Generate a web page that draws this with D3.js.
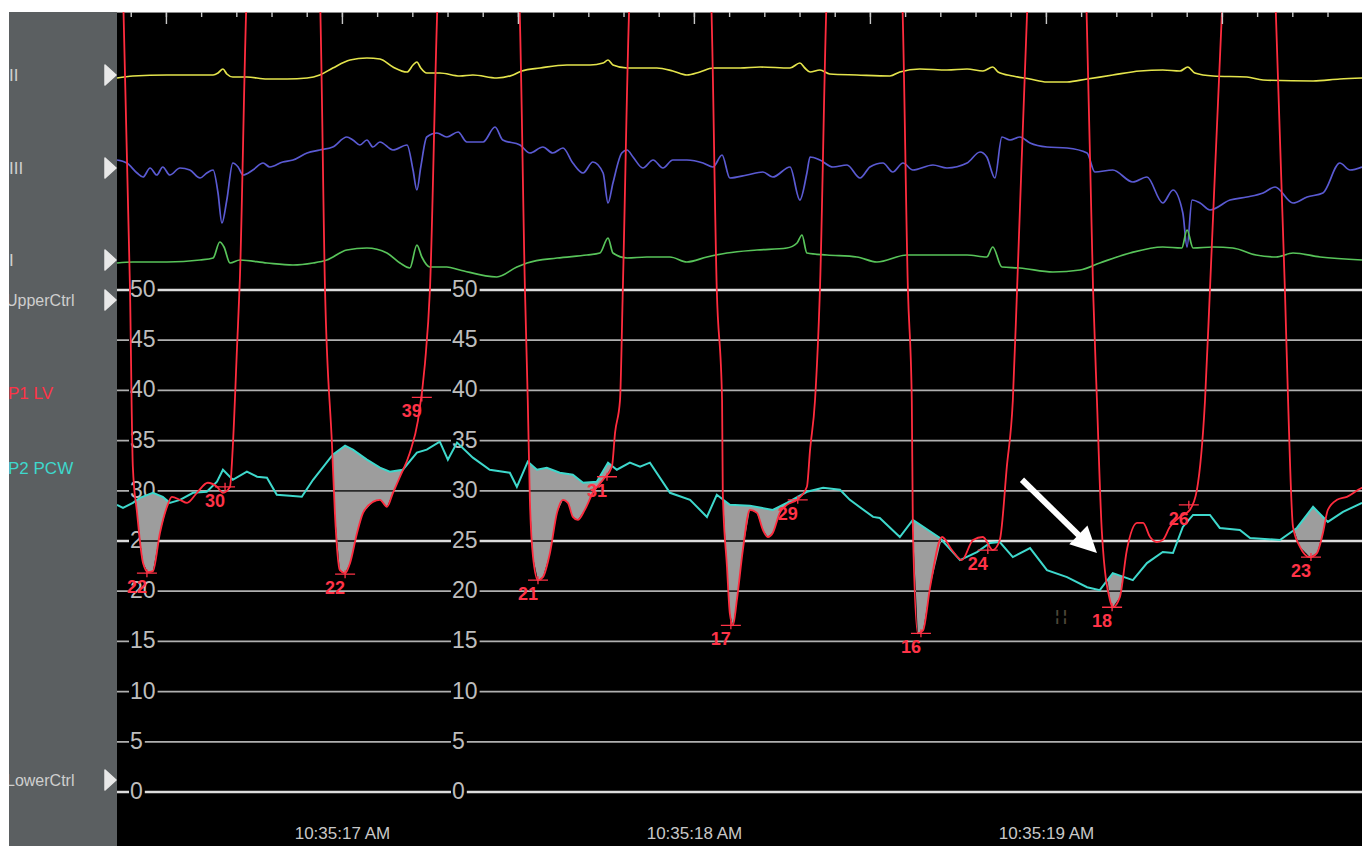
<!DOCTYPE html>
<html>
<head>
  <meta charset="utf-8">
  <style type="text/css">
  body {
    margin: 0;
    background: #fff;
  }
  svg {
    display: block;
    font-family: "Liberation Sans", Arial, sans-serif;
  }
  .grid-label {
    font-size: 23px;
    fill: #bdbdbd;
  }
  .panel-label {
    font-size: 16px;
    fill: #cfcfcf;
  }
  .time-axis text {
    font-size: 17px;
    fill: #c8c8c8;
    font-family: "Liberation Sans", Arial, sans-serif;
  }
  .time-axis path, .tick-axis path {
    display: none;
  }
  .tick-axis line {
    stroke: #c8c8c8;
    stroke-width: 1.4px;
  }
  .value-label {
    font-size: 18px;
    font-weight: bold;
    fill: #ff3347;
  }
  </style>
</head>
<body>
  <script src="https://d3js.org/d3.v7.min.js"></script>
  <script>
    // time is ms relative to 10:35:17.000 AM, pressure in mmHg, ECG in mV
    var lvData = [
      [-700,125],[-622,80],[-602,50],[-594,32.4],[-582,27.8],[-565,22.8],[-551,21.9],[-537,22],[-517,25.8],[-497,28.4],
      [-483,29.4],[-460,29.1],[-440,28.8],[-412,29.8],[-381,30.8],[-355,30.4],[-338,29.8],[-318,30.4],[-310,34.4],[-298,44.3],
      [-290,51],[-270,80],[-162,125],
      [-63,80],[-48,50],[-28,34.4],[-20,27.8],[-6,22.1],[9,21.8],[23,22.8],[43,25.8],[60,27.8],[88,28.9],[108,29.1],
      [128,28.4],[145,29.8],[165,31.4],[193,33.8],[216,37],[236,42.7],[250,50],[273,80],[386,125],
      [503,80],[520,50],[528,39],[534,29.1],[543,23.4],[557,21.1],[571,21.4],[591,23.8],[611,27.8],[628,29.1],
      [642,28.8],[656,27.4],[670,27.1],[690,28.1],[713,29.8],[742,31.1],[767,32.4],[776,35.8],[790,39],[798,50],
      [818,80],[932,125],
      [1048,80],[1065,50],[1080,39],[1082,29.8],[1094,22.4],[1102,17.8],[1111,16.6],[1122,19.1],[1139,24.1],[1159,28.1],
      [1179,27.8],[1196,26.1],[1210,25.4],[1224,25.8],[1244,27.8],[1264,28.6],[1293,29.1],[1321,30.4],[1330,34.1],[1344,39],
      [1358,50],[1378,80],[1486,125],
      [1591,80],[1608,50],[1619,39],[1622,26.4],[1636,15.8],[1651,16.1],[1671,20.4],[1705,25.4],[1733,24.1],[1761,23.1],
      [1793,25.1],[1821,25.4],[1849,24.1],[1869,25.1],[1889,32.4],[1906,39],[1918,50],[1949,80],[2031,125],
      [2114,80],[2134,50],[2145,39],[2159,25.9],[2182,19.1],[2190,18.4],[2210,19.4],[2230,24.1],[2259,26.8],[2276,26.8],
      [2296,25.4],[2315,24.9],[2332,25.1],[2352,26.4],[2381,27.4],[2409,28.1],[2429,30.1],[2452,39],[2466,50],[2503,80],
      [2577,125],
      [2651,80],[2679,50],[2688,39],[2702,26.4],[2722,24.4],[2750,23.4],[2770,23.8],[2787,25.8],[2801,28.1],[2827,29.1],
      [2855,29.4],[2898,30.3],[2921,30.5]
    ];

    var pcwData = [
      [-639,28.6],[-622,28.3],[-594,28.8],[-574,29.3],[-537,29.8],[-509,29.4],[-489,28.8],[-460,29.1],[-423,29.8],[-384,29.9],
      [-355,30.9],[-338,32.1],[-310,31.1],[-270,31.9],[-241,31.4],[-213,31.3],[-185,29.6],[-148,29.5],[-114,29.4],[-82,31.1],
      [-48,32.6],[-26,33.6],[9,34.5],[31,34.1],[71,33.1],[108,32.3],[136,31.9],[173,32.1],[213,33.8],[241,34.1],
      [278,34.9],[301,33.1],[327,34.8],[372,33.3],[420,32.1],[477,31.8],[497,30.4],[528,32.9],[554,32.1],[582,32.3],
      [619,31.8],[656,31.6],[685,30.8],[724,30.9],[756,32.8],[781,32.1],[818,32.8],[847,32.4],[875,32.8],[932,29.8],
      [989,29.1],[1037,27.4],[1065,29.6],[1102,28.6],[1159,28.5],[1224,28.1],[1264,28.8],[1321,29.9],[1367,30.3],[1415,30.1],
      [1443,29.1],[1509,27.4],[1528,27.3],[1585,25.4],[1622,27.1],[1699,25.3],[1756,23.1],[1804,23.9],[1841,24.8],[1869,24.9],
      [1906,23.4],[1955,24.3],[2003,22.1],[2060,21.4],[2117,20.4],[2153,20.1],[2190,21.8],[2247,21.1],[2287,22.8],[2332,23.9],
      [2361,23.8],[2389,26.4],[2418,27.6],[2466,27.6],[2494,26.3],[2551,26.1],[2580,25.3],[2665,25.1],[2713,26.3],[2759,28.4],
      [2801,26.9],[2844,27.9],[2898,28.8]
    ];

    var ecgII = [
      [-639,-0.03],[-594,-0.01],[-497,0],[-403,0],[-366,0],[-352,0.02],[-338,0.06],[-327,0.01],[-310,-0.02],[-270,-0.02],
      [-213,-0.04],[-156,-0.04],[-99,-0.03],[-63,0],[-26,0.07],[23,0.15],[71,0.17],[108,0.16],[145,0.08],[185,0.03],
      [202,0.10],[213,0.13],[224,0.07],[241,0.02],[278,0.02],[335,-0.01],[372,0],[440,-0.03],[486,0],[511,0.04],
      [563,0.07],[639,0.10],[705,0.10],[742,0.12],[756,0.15],[770,0.10],[810,0.07],[895,0.07],[940,0.04],[980,0],
      [1017,0.03],[1054,0.07],[1131,0.07],[1188,0.08],[1273,0.07],[1301,0.12],[1315,0.07],[1330,0.03],[1358,0.05],[1386,0.01],
      [1463,0],[1557,-0.01],[1585,0.03],[1642,0.06],[1719,0.05],[1776,0.06],[1821,0.04],[1849,0.08],[1864,0.03],[1906,-0.01],
      [1955,-0.04],[2003,-0.07],[2060,-0.07],[2117,-0.04],[2190,0],[2267,0.04],[2332,0.05],[2381,0.04],[2403,0.08],[2423,0.02],
      [2475,-0.01],[2571,-0.02],[2617,-0.05],[2759,-0.06],[2835,-0.04],[2898,-0.03]
    ];

    var ecgIII = [
      [-639,0.08],[-611,0.05],[-582,-0.05],[-565,-0.09],[-545,0],[-526,-0.07],[-509,0.01],[-489,-0.07],[-460,0],[-432,-0.02],
      [-403,-0.10],[-384,-0.05],[-366,-0.02],[-352,-0.25],[-341,-0.55],[-327,-0.32],[-310,0.05],[-295,0.01],[-281,-0.07],[-253,-0.02],
      [-224,0.05],[-205,0.01],[-168,0.06],[-139,0.08],[-99,0.15],[-63,0.18],[-26,0.21],[14,0.31],[31,0.28],[51,0.23],
      [71,0.28],[88,0.21],[108,0.26],[145,0.18],[185,0.23],[202,-0.02],[213,-0.22],[224,0.01],[241,0.31],[270,0.35],
      [298,0.31],[330,0.36],[355,0.26],[401,0.26],[435,0.41],[457,0.28],[506,0.23],[534,0.15],[571,0.21],[599,0.15],
      [628,0.20],[656,0.05],[685,-0.05],[713,0.06],[742,-0.05],[756,-0.35],[770,-0.15],[795,0.15],[810,0.18],[827,0.11],
      [855,0],[884,0.08],[912,0],[940,0.08],[980,0.08],[1026,0.05],[1054,0.01],[1080,0.13],[1102,-0.10],[1151,-0.07],
      [1196,-0.04],[1224,-0.09],[1273,0.01],[1301,-0.32],[1321,-0.05],[1330,0.11],[1358,0.08],[1395,0.01],[1435,0.03],[1472,-0.10],
      [1500,0.01],[1537,0.05],[1565,-0.04],[1594,0.05],[1622,-0.02],[1679,0.03],[1719,0],[1776,0.05],[1813,0.16],[1832,0.11],
      [1855,-0.10],[1875,0.31],[1898,0.28],[1926,0.31],[1955,0.25],[2003,0.21],[2060,0.20],[2117,0.15],[2139,-0.04],[2190,-0.02],
      [2247,-0.14],[2287,-0.09],[2332,-0.35],[2361,-0.22],[2389,-0.45],[2401,-0.79],[2415,-0.32],[2438,-0.35],[2466,-0.42],[2523,-0.32],
      [2571,-0.29],[2617,-0.25],[2651,-0.19],[2702,-0.35],[2742,-0.29],[2787,-0.25],[2835,0.05],[2864,-0.02],[2898,0.01]
    ];

    var ecgI = [
      [-639,-0.03],[-594,-0.02],[-497,-0.02],[-403,0],[-366,0.02],[-347,0.18],[-335,0.13],[-318,-0.03],[-290,0],[-213,-0.03],
      [-139,-0.05],[-82,-0.03],[-43,0],[14,0.10],[71,0.12],[128,0.07],[165,-0.03],[193,-0.08],[213,0.15],[227,0.03],
      [250,-0.07],[298,-0.07],[335,-0.10],[440,-0.17],[497,-0.07],[526,-0.03],[611,0.02],[696,0.05],[733,0.07],[756,0.22],
      [770,0.07],[810,0.02],[866,0.03],[932,0.03],[980,-0.02],[1037,0.03],[1094,0.07],[1179,0.10],[1264,0.12],[1293,0.17],
      [1307,0.25],[1321,0.07],[1378,0.05],[1463,0.03],[1520,-0.02],[1605,0.05],[1679,0.05],[1776,0.05],[1832,0.03],[1849,0.13],
      [1875,-0.07],[1926,-0.08],[2020,-0.12],[2097,-0.10],[2153,-0.03],[2239,0.07],[2332,0.13],[2386,0.12],[2401,0.30],[2418,0.12],
      [2475,0.13],[2531,0.12],[2597,0.05],[2654,0.03],[2702,0.07],[2779,0.03],[2898,0]
    ];

    // measured LV points: [ms, mmHg, label]
    var valueMarks = [
      [-554,21.8,"22"],[9,21.7,"22"],[-332,30.4,"30"],[227,39.3,"39"],[557,21.1,"21"],[753,31.4,"31"],
      [1105,16.6,"17"],[1295,29.1,"29"],[1645,15.8,"16"],[1835,24.1,"24"],[2188,18.4,"18"],[2406,28.6,"26"],[2753,23.4,"23"]
    ];
    var faintMark = [2043, 17.0, "¦ ¦"];
    var arrowFrom = [1932, 31.1], arrowTo = [2145, 23.8];

    var pressureTicks = [0, 5, 10, 15, 20, 25, 30, 35, 40, 45, 50];
    var leadNames = ["II", "III", "I"];
    var leadColors = ["#e4e44c", "#5a5ad2", "#58c45a"];
    var channelNames = ["UpperCtrl", "P1 LV", "P2 PCW", "LowerCtrl"];

    var width = 1362, height = 846;
    var frame = {left: 9, top: 12, panel: 117, right: 1362, bottom: 846};
    var leadBase = [75, 168, 260];

    var base = new Date(2017, 0, 1, 10, 35, 17);
    function at(ms) { return new Date(base.getTime() + ms); }

    var x = d3.scaleTime()
        .domain([at(-639), at(2898)])
        .range([frame.panel, frame.right]);
    var y = d3.scaleLinear()
        .domain([0, 50])
        .range([792, 290]);

    var svg = d3.select("body").append("svg")
        .attr("width", width)
        .attr("height", height);

    var defs = svg.append("defs");
    defs.append("clipPath").attr("id", "plot-clip")
      .append("rect")
        .attr("x", frame.panel).attr("y", frame.top)
        .attr("width", frame.right - frame.panel).attr("height", frame.bottom - frame.top);
    defs.append("clipPath").attr("id", "panel-clip")
      .append("rect")
        .attr("x", frame.left).attr("y", frame.top)
        .attr("width", frame.panel - frame.left).attr("height", frame.bottom - frame.top);

    // backgrounds
    svg.append("rect")
        .attr("x", frame.left).attr("y", frame.top)
        .attr("width", frame.panel - frame.left).attr("height", frame.bottom - frame.top)
        .attr("fill", "#5b5f61");
    svg.append("rect")
        .attr("x", frame.panel).attr("y", frame.top)
        .attr("width", frame.right - frame.panel).attr("height", frame.bottom - frame.top)
        .attr("fill", "#000");
    svg.append("line")
        .attr("x1", frame.panel).attr("x2", frame.right)
        .attr("y1", frame.top + 0.5).attr("y2", frame.top + 0.5)
        .attr("stroke", "#8a8a8a").attr("stroke-width", 1);

    // pressure grid
    var grid = svg.append("g").attr("class", "grid");
    function isMajor(v) { return v % 25 === 0; }
    grid.selectAll("line")
        .data(pressureTicks)
      .enter().append("line")
        .attr("x1", frame.panel).attr("x2", frame.right)
        .attr("y1", function(d) { return y(d); })
        .attr("y2", function(d) { return y(d); })
        .attr("stroke", function(d) { return isMajor(d) ? "#dcdcdc" : "#b0b0b0"; })
        .attr("stroke-width", function(d) { return isMajor(d) ? 2.6 : 1.7; });

    [frame.panel + 13, frame.panel + 335].forEach(function(cx) {
      pressureTicks.forEach(function(v) {
        var g = grid.append("g");
        var t = g.append("text")
            .attr("class", "grid-label")
            .attr("x", cx)
            .attr("y", y(v))
            .attr("dy", "0.3em")
            .text(v);
        var bb = t.node().getBBox();
        g.insert("rect", "text")
            .attr("x", bb.x - 1).attr("y", y(v) - 3)
            .attr("width", bb.width + 3).attr("height", 6)
            .attr("fill", "#000");
      });
    });

    // grey area where PCW sits above LV after each LV downstroke
    function valueAt(series, t) {
      var i = d3.bisector(function(d) { return d[0]; }).left(series, t);
      if (i <= 0) return series[0][1];
      if (i >= series.length) return series[series.length - 1][1];
      var a = series[i - 1], b = series[i];
      return a[1] + (b[1] - a[1]) * (t - a[0]) / (b[0] - a[0]);
    }
    var samples = d3.range(-639, 2898, 1).map(function(t) {
      return {t: t, lv: valueAt(lvData, t), pcw: valueAt(pcwData, t)};
    });
    var regions = [], cur = null;
    samples.forEach(function(s) {
      if (s.pcw > s.lv) {
        if (!cur) { cur = []; regions.push(cur); }
        cur.push(s);
      } else {
        cur = null;
      }
    });
    regions = regions.filter(function(r) {
      var t0 = r[0].t;
      return valueAt(lvData, t0 - 15) > valueAt(pcwData, t0) + 4 && r.length > 5;
    });
    var fillArea = d3.area()
        .x(function(d) { return x(at(d.t)); })
        .y0(function(d) { return y(d.lv); })
        .y1(function(d) { return y(d.pcw); });

    var fillClip = defs.append("clipPath").attr("id", "fill-clip");
    regions.forEach(function(r) {
      fillClip.append("path").attr("d", fillArea(r));
    });
    svg.append("g")
        .attr("clip-path", "url(#plot-clip)")
      .selectAll("path")
        .data(regions)
      .enter().append("path")
        .attr("d", fillArea)
        .attr("fill", "#9d9d9d");
    // grid lines show dark through the grey area
    svg.append("g")
        .attr("clip-path", "url(#fill-clip)")
      .selectAll("line")
        .data(pressureTicks)
      .enter().append("line")
        .attr("x1", frame.panel).attr("x2", frame.right)
        .attr("y1", function(d) { return y(d); })
        .attr("y2", function(d) { return y(d); })
        .attr("stroke", "#2a2a2a")
        .attr("stroke-width", 1.8);

    // ECG leads
    var traces = svg.append("g").attr("clip-path", "url(#plot-clip)");
    [ecgII, ecgIII, ecgI].forEach(function(series, i) {
      var ly = d3.scaleLinear().domain([-1, 1]).range([leadBase[i] + 100, leadBase[i] - 100]);
      var line = d3.line()
          .x(function(d) { return x(at(d[0])); })
          .y(function(d) { return ly(d[1]); })
          .curve(d3.curveMonotoneX);
      traces.append("path")
          .datum(series)
          .attr("d", line)
          .attr("fill", "none")
          .attr("stroke", leadColors[i])
          .attr("stroke-width", 1.7);
    });

    // pressure traces
    var pLine = d3.line()
        .x(function(d) { return x(at(d[0])); })
        .y(function(d) { return y(d[1]); });
    traces.append("path")
        .datum(pcwData)
        .attr("d", pLine)
        .attr("fill", "none")
        .attr("stroke", "#3ed8cc")
        .attr("stroke-width", 2);
    traces.append("path")
        .datum(lvData)
        .attr("d", pLine.curve(d3.curveMonotoneX))
        .attr("fill", "none")
        .attr("stroke", "#ff2c3e")
        .attr("stroke-width", 1.8);

    // measurement marks
    var marks = svg.append("g").attr("class", "marks");
    var mg = marks.selectAll("g")
        .data(valueMarks)
      .enter().append("g")
        .attr("transform", function(d) { return "translate(" + x(at(d[0])) + "," + y(d[1]) + ")"; });
    mg.append("path")
        .attr("d", "M-10,0H10M0,-4V4")
        .attr("stroke", "#ff3347")
        .attr("stroke-width", 1.3)
        .attr("fill", "none");
    mg.append("text")
        .attr("class", "value-label")
        .attr("x", -10)
        .attr("y", 20)
        .attr("text-anchor", "middle")
        .text(function(d) { return d[2]; });
    marks.append("text")
        .attr("x", x(at(faintMark[0])))
        .attr("y", y(faintMark[1]))
        .attr("text-anchor", "middle")
        .attr("fill", "#4d4638")
        .attr("font-size", 14)
        .attr("font-weight", "bold")
        .text(faintMark[2]);

    // arrow
    var ax0 = x(at(arrowFrom[0])), ay0 = y(arrowFrom[1]);
    var ax1 = x(at(arrowTo[0])), ay1 = y(arrowTo[1]);
    var len = Math.hypot(ax1 - ax0, ay1 - ay0);
    var ux = (ax1 - ax0) / len, uy = (ay1 - ay0) / len;
    var hx = ax1 - ux * 26, hy = ay1 - uy * 26;
    svg.append("line")
        .attr("x1", ax0).attr("y1", ay0)
        .attr("x2", hx + ux * 4).attr("y2", hy + uy * 4)
        .attr("stroke", "#fff")
        .attr("stroke-width", 6);
    svg.append("path")
        .attr("d", "M" + ax1 + "," + ay1 +
                   "L" + (hx - uy * 13) + "," + (hy + ux * 13) +
                   "L" + (hx + uy * 13) + "," + (hy - ux * 13) + "Z")
        .attr("fill", "#fff");

    // time ticks along the top
    svg.append("g")
        .attr("class", "tick-axis")
        .attr("transform", "translate(0," + frame.top + ")")
        .call(d3.axisBottom(x).ticks(d3.timeMillisecond.every(100)).tickSize(5).tickFormat(""));
    svg.append("g")
        .attr("class", "tick-axis")
        .attr("transform", "translate(0," + frame.top + ")")
        .call(d3.axisBottom(x).ticks(d3.timeMillisecond.every(500)).tickSize(12).tickFormat(""));

    // time labels along the bottom
    svg.append("g")
        .attr("class", "time-axis")
        .attr("transform", "translate(0,827)")
        .call(d3.axisBottom(x)
          .ticks(d3.timeSecond.every(1))
          .tickSize(0)
          .tickPadding(0)
          .tickFormat(d3.timeFormat("%-I:%M:%S %p")));

    // left panel labels and markers
    var panel = svg.append("g").attr("clip-path", "url(#panel-clip)");
    leadNames.forEach(function(name, i) {
      panel.append("text")
          .attr("class", "panel-label")
          .attr("x", 9)
          .attr("y", leadBase[i])
          .attr("dy", "0.36em")
          .style("font-size", "17px")
          .text(name);
    });
    var channelY = [300, 393, 468, 780];
    var channelFill = ["#cfcfcf", "#ff3347", "#3ed8cc", "#cfcfcf"];
    channelNames.forEach(function(name, i) {
      panel.append("text")
          .attr("class", "panel-label")
          .attr("x", i === 0 || i === 3 ? 6 : 8)
          .attr("y", channelY[i])
          .attr("dy", "0.36em")
          .style("fill", channelFill[i])
          .style("font-size", i === 0 || i === 3 ? "16px" : "17px")
          .text(name);
    });
    [leadBase[0], leadBase[1], leadBase[2], channelY[0], channelY[3]].forEach(function(cy) {
      panel.append("path")
          .attr("d", "M105," + (cy - 10) + "L116," + cy + "L105," + (cy + 10) + "Z")
          .attr("fill", "#e8e8e8")
          .attr("stroke", "#e8e8e8")
          .attr("stroke-linejoin", "round")
          .attr("stroke-width", 1.5);
    });
  </script>
</body>
</html>
